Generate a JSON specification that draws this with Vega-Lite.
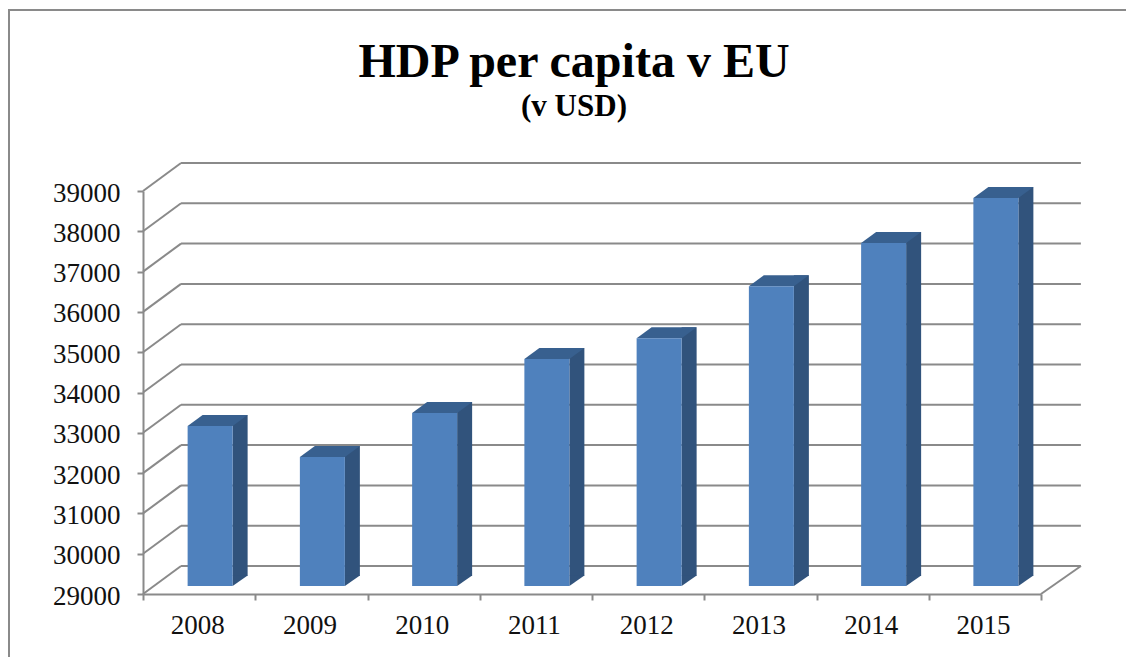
{
  "$schema": "https://vega.github.io/schema/vega-lite/v6.json",
  "width": 1130,
  "height": 660,
  "autosize": "none",
  "padding": {"left": 9, "top": 10, "right": 0, "bottom": 0},
  "background": "white",
  "view": {"stroke": "#8a8a8a", "strokeWidth": 2, "fill": "white"},
  "title": {
    "text": "HDP per capita v EU",
    "subtitle": "(v USD)",
    "anchor": "middle",
    "offset": -112,
    "font": "Liberation Serif",
    "fontSize": 48,
    "fontWeight": "bold",
    "color": "black",
    "subtitleFont": "Liberation Serif",
    "subtitleFontSize": 31,
    "subtitleFontWeight": "bold",
    "subtitleColor": "black",
    "subtitlePadding": 5
  },
  "datasets": {
    "gdp": [
      {"year": "2008", "value": 32970},
      {"year": "2009", "value": 32200},
      {"year": "2010", "value": 33290},
      {"year": "2011", "value": 34630},
      {"year": "2012", "value": 35150},
      {"year": "2013", "value": 36440},
      {"year": "2014", "value": 37510},
      {"year": "2015", "value": 38630}
    ],
    "grid": [
      {"v": 29000}, {"v": 30000}, {"v": 31000}, {"v": 32000}, {"v": 33000}, {"v": 34000},
      {"v": 35000}, {"v": 36000}, {"v": 37000}, {"v": 38000}, {"v": 39000}
    ]
  },
  "layer": [
    {
      "data": {"name": "grid"},
      "mark": {"type": "rule", "stroke": "#8a8a8a", "strokeWidth": 2, "xOffset": -18.1, "x2Offset": 96, "yOffset": -28},
      "encoding": {
        "x": {
          "datum": "2008",
          "type": "ordinal",
          "scale": {"domain": ["2008", "2009", "2010", "2011", "2012", "2013", "2014", "2015"], "range": [134, 1032], "paddingInner": 0, "paddingOuter": 0},
          "title": null,
          "axis": {
            "title": null,
            "offset": -76,
            "tickBand": "extent",
            "labelAngle": 0,
            "labelFont": "Liberation Serif",
            "labelFontSize": 27,
            "labelColor": "#111111",
            "labelPadding": 12,
            "labelOffset": -2,
            "domainColor": "#8a8a8a",
            "domainWidth": 2,
            "tickColor": "#8a8a8a",
            "tickWidth": 2,
            "tickSize": 6,
            "grid": false
          }
        },
        "x2": {"datum": "2015"},
        "y": {
          "field": "v",
          "type": "quantitative",
          "scale": {"domain": [29000, 39000], "range": [584, 181], "zero": false, "nice": false},
          "title": null,
          "axis": {
            "title": null,
            "offset": -134,
            "values": [29000, 30000, 31000, 32000, 33000, 34000, 35000, 36000, 37000, 38000, 39000],
            "format": "d",
            "labelFont": "Liberation Serif",
            "labelFontSize": 27,
            "labelColor": "#111111",
            "labelPadding": 17,
            "labelOffset": 2,
            "domainColor": "#8a8a8a",
            "domainWidth": 2,
            "tickColor": "#8a8a8a",
            "tickWidth": 2,
            "tickSize": 6,
            "grid": false
          }
        }
      }
    },
    {
      "data": {"name": "grid"},
      "mark": {"type": "point", "shape": "M0,0L38,-28", "size": 4, "filled": false, "stroke": "#8a8a8a", "strokeWidth": 2, "opacity": 1, "xOffset": -56.1},
      "encoding": {
        "x": {"datum": "2008", "type": "ordinal", "title": null},
        "y": {"field": "v", "type": "quantitative", "title": null}
      }
    },
    {
      "data": {"values": [{"v": 29000}]},
      "mark": {"type": "point", "shape": "M0,0L40,-28", "size": 4, "filled": false, "stroke": "#8a8a8a", "strokeWidth": 2, "opacity": 1, "xOffset": 56.1},
      "encoding": {
        "x": {"datum": "2015", "type": "ordinal", "title": null},
        "y": {"field": "v", "type": "quantitative", "title": null}
      }
    },
    {
      "data": {"name": "gdp"},
      "mark": {"type": "bar", "width": 15, "fill": "#31537c", "xOffset": 41, "yOffset": -19, "y2Offset": -18},
      "encoding": {
        "x": {"field": "year", "type": "ordinal", "title": null},
        "y": {"field": "value", "type": "quantitative", "title": null},
        "y2": {"datum": 29000}
      }
    },
    {
      "data": {"name": "gdp"},
      "mark": {"type": "point", "shape": "M22.5,0L37.5,-10.5L22.5,-10.5Z", "size": 4, "filled": true, "fill": "#31537c", "strokeWidth": 0, "opacity": 1, "xOffset": 11, "yOffset": -8},
      "encoding": {
        "x": {"field": "year", "type": "ordinal", "title": null},
        "y": {"datum": 29000, "type": "quantitative", "title": null}
      }
    },
    {
      "data": {"name": "gdp"},
      "mark": {"type": "point", "shape": "M-22.5,0L22.5,0L37.5,-11L-7.5,-11Z", "size": 4, "filled": true, "fill": "#38608f", "strokeWidth": 0, "opacity": 1, "xOffset": 11, "yOffset": -8},
      "encoding": {
        "x": {"field": "year", "type": "ordinal", "title": null},
        "y": {"field": "value", "type": "quantitative", "title": null}
      }
    },
    {
      "data": {"name": "gdp"},
      "mark": {"type": "bar", "width": 45, "fill": "#4f81bd", "xOffset": 11, "yOffset": -8, "y2Offset": -8},
      "encoding": {
        "x": {"field": "year", "type": "ordinal", "title": null},
        "y": {"field": "value", "type": "quantitative", "title": null},
        "y2": {"datum": 29000}
      }
    }
  ]
}
